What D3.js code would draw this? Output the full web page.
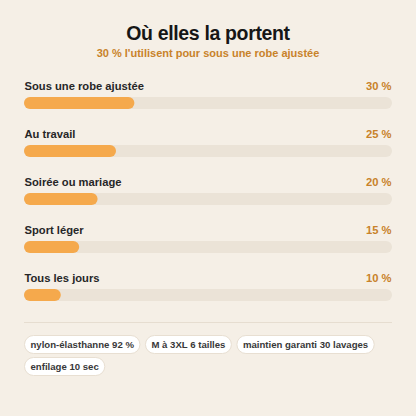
<!DOCTYPE html>
<html><head><meta charset="utf-8">
<script src="https://cdn.jsdelivr.net/npm/d3@7"></script>
<style>
html,body{margin:0;padding:0;background:#f5efe6;}
svg{display:block;font-family:"Liberation Sans",Arial,sans-serif;}
</style></head><body>
<svg id="c" width="416" height="416"></svg>
<script>
const categories = ["Sous une robe ajustée","Au travail","Soirée ou mariage","Sport léger","Tous les jours"];
const values = [30,25,20,15,10];
const chips = ["nylon-élasthanne 92 %","M à 3XL 6 tailles","maintien garanti 30 lavages","enfilage 10 sec"];
const title = "Où elles la portent";
const subtitle = "30 % l'utilisent pour sous une robe ajustée";

const svg = d3.select("#c");
svg.append("rect").attr("width",416).attr("height",416).attr("fill","#f5efe6");

svg.append("text").attr("x",208).attr("y",40).attr("text-anchor","middle")
  .attr("font-size",19.5).attr("letter-spacing","-0.35").attr("font-weight","bold").attr("fill","#161616").text(title);
svg.append("text").attr("x",208).attr("y",57).attr("text-anchor","middle")
  .attr("font-size",11).attr("font-weight","bold").attr("fill","#c8822a").text(subtitle);

const x = d3.scaleLinear().domain([0,100]).range([24,392]);
const y = d3.scaleBand().domain(categories).range([73,313]).padding(0);

const rows = svg.selectAll("g.row").data(categories).join("g").attr("class","row")
  .attr("transform",d=>`translate(0,${y(d)})`);
rows.append("text").attr("x",24.5).attr("y",17).attr("font-size",11.2).attr("font-weight","bold")
  .attr("fill","#262626").text(d=>d);
rows.append("text").attr("x",391.5).attr("y",17).attr("text-anchor","end").attr("font-size",11.2)
  .attr("font-weight","bold").attr("fill","#c8822a").text((d,i)=>values[i]+" %");
rows.append("rect").attr("x",x(0)).attr("y",24).attr("width",x(100)-x(0)).attr("height",12)
  .attr("rx",6).attr("fill","#ebe3d7");
rows.append("rect").attr("x",x(0)).attr("y",24).attr("width",(d,i)=>x(values[i])-x(0)).attr("height",12)
  .attr("rx",6).attr("fill","#f5a94c");

svg.append("line").attr("x1",24).attr("x2",392).attr("y1",322.5).attr("y2",322.5)
  .attr("stroke","#e6ddd0").attr("stroke-width",1);

// chips
let cx = 24, cy = 335;
const chipH = 18, padX = 6, gap = 5.5;
chips.forEach(t=>{
  const g = svg.append("g");
  const tx = g.append("text").attr("font-size",9.6).attr("font-weight","bold").attr("fill","#383838").text(t);
  const w = tx.node().getComputedTextLength() + padX*2;
  if (cx + w > 392) { cx = 24; cy += chipH + 4; }
  g.insert("rect","text").attr("x",cx+0.5).attr("y",cy+0.5).attr("width",w).attr("height",chipH)
    .attr("rx",9).attr("fill","#ffffff").attr("stroke","#e8dfd2");
  tx.attr("x",cx+0.5+padX).attr("y",cy+0.5+12.5);
  cx += w + gap;
});
</script>
</body></html>
